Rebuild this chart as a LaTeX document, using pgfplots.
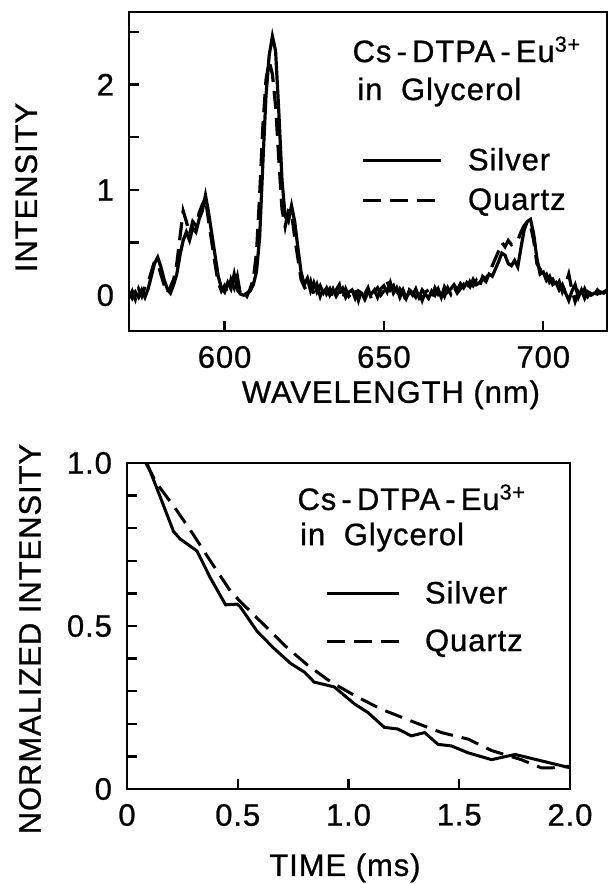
\documentclass[border=0pt]{standalone}
\usepackage{fontspec}
\setmainfont{Liberation Sans}[LetterSpace=3, FakeBold=0.8]
\usepackage{pgfplots}
\pgfplotsset{compat=1.18}

\pgfplotstableread{
x silver quartz
570 0.02 -0.02
571 -0.03 0.04
572 0.03 -0.04
573 -0.02 0.06
574 0.05 -0.01
575 -0.02 0.08
576 0.06 0.12
577 0.18 0.22
578 0.30 0.32
579 0.36 0.30
580 0.27 0.20
581 0.15 0.10
582 0.06 0.02
583 0.02 0.08
584 0.10 0.15
585 0.20 0.30
586 0.38 0.55
587 0.52 0.80
588 0.60 0.70
589 0.52 0.58
590 0.64 0.70
591 0.60 0.66
592 0.72 0.78
593 0.80 0.86
594 0.95 0.92
595 0.78 0.70
596 0.58 0.50
597 0.38 0.30
598 0.18 0.12
599 0.07 0.04
600 0.03 0.09
601 0.12 0.02
602 0.06 0.15
603 0.20 0.07
604 0.05 0.18
605 0.01 0.00
606 0.00 0.03
607 0.02 -0.01
608 0.04 0.06
609 0.10 0.15
610 0.22 0.40
611 0.55 0.95
612 1.25 1.60
613 1.90 2.05
614 2.28 2.22
615 2.46 2.10
616 2.32 1.80
617 1.75 1.30
618 1.10 0.82
619 0.75 0.65
620 0.70 0.80
621 0.85 0.78
622 0.70 0.55
623 0.45 0.35
624 0.22 0.15
625 0.10 0.08
626 0.16 0.03
627 0.04 0.13
628 0.12 0.01
629 0.03 0.10
630 0.09 -0.01
631 0.02 0.08
632 0.07 0.01
633 0.00 0.06
634 0.06 -0.03
635 -0.01 0.05
636 0.04 0.10
637 0.07 -0.04
638 -0.02 0.06
639 0.03 -0.01
640 0.05 0.02
641 -0.03 0.06
642 0.04 -0.05
643 0.02 0.05
644 -0.04 0.01
645 0.03 0.07
646 0.01 -0.03
647 0.05 0.03
648 -0.02 0.07
649 0.06 0.00
650 0.09 0.04
651 0.03 0.13
652 0.12 0.05
653 0.02 0.09
654 0.07 -0.01
655 -0.02 0.06
656 0.05 0.02
657 -0.03 -0.06
658 0.04 0.05
659 0.00 0.02
660 0.06 -0.02
661 -0.02 0.04
662 0.05 -0.05
663 0.01 0.03
664 -0.03 0.05
665 0.04 -0.02
666 0.00 0.07
667 0.06 0.01
668 -0.02 0.05
669 0.08 -0.01
670 0.03 0.07
671 0.06 0.01
672 0.10 0.08
673 0.05 0.02
674 0.11 0.06
675 0.07 0.10
676 0.12 0.04
677 0.08 0.13
678 0.15 0.09
679 0.10 0.14
680 0.12 0.08
681 0.16 0.18
682 0.13 0.15
683 0.20 0.22
684 0.18 0.28
685 0.25 0.35
686 0.32 0.42
687 0.40 0.50
688 0.38 0.46
689 0.30 0.52
690 0.28 0.48
691 0.33 0.50
692 0.27 0.52
693 0.45 0.60
694 0.62 0.66
695 0.70 0.70
696 0.72 0.66
697 0.58 0.52
698 0.35 0.30
699 0.20 0.25
700 0.22 0.17
701 0.14 0.20
702 0.18 0.12
703 0.10 0.15
704 0.12 0.08
705 0.05 0.13
706 0.10 0.03
707 0.02 0.10
708 -0.05 0.20
709 0.04 0.05
710 0.10 -0.06
711 -0.02 0.03
712 0.05 -0.02
713 -0.03 0.06
714 0.03 -0.01
715 0.00 0.04
716 0.02 0.00
717 0.01 0.05
718 0.03 0.02
719 0.02 0.03
720 0.04 0.05
}\spectrum

\pgfplotsset{
  panel/.style={
    scale only axis,
    axis line style={line width=1.4pt},
    tick align=inside,
    tick pos=left,
    major tick length=5pt,
    minor tick length=5pt,
    every tick/.append style={line width=1.2pt, black},
    tick label style={font=\fontsize{15.5}{18}\selectfont},
    label style={font=\fontsize{15.5}{18}\selectfont},
    xticklabel style={yshift=-4pt},
    yticklabel style={xshift=-4pt},
    legend style={draw=none, fill=none, inner sep=0pt, outer sep=0pt,
      nodes={inner sep=0pt}, font=\fontsize{15.5}{18}\selectfont,
      column sep=12.5pt},
    legend cell align=left,
  },
}

\begin{document}
\begin{tikzpicture}
\useasboundingbox (0,0) rectangle (305pt,442pt);

\begin{axis}[panel,
    at={(64.5pt,276.5pt)}, anchor=south west,
    width=239pt, height=159.5pt,
    xmin=570, xmax=720, ymin=-0.34, ymax=2.69,
    xtick={600,650,700}, xticklabels={600,650,700},
    ytick={0,1,2}, yticklabels={0,1,2},
    minor ytick={0.5,1.5,2.5},
    xlabel={WAVELENGTH (nm)},
    ylabel={INTENSITY},
    xlabel style={at={(axis description cs:0.548,-0.2)}, anchor=center},
    ylabel style={at={(axis description cs:-0.215,0.45)}, anchor=center},
    legend image code/.code={\draw[#1] (0pt,0pt) -- (39pt,0pt);},
    legend style={at={(rel axis cs:0.487,0.574)}, anchor=north west, row sep=7.5pt},
]
\addplot[black, line width=1.6pt] table[x=x, y=silver] {\spectrum};
\addlegendentry{Silver}
\addplot[black, line width=1.6pt, dash pattern=on 9pt off 4.5pt] table[x=x, y=quartz] {\spectrum};
\addlegendentry{Quartz}
\node[anchor=base west, font=\fontsize{15.5}{18}\selectfont, inner sep=0pt]
  at (rel axis cs:0.467,0.843) {Cs\,-\,DTPA\,-\,Eu\textsuperscript{3+}};
\node[anchor=base west, font=\fontsize{15.5}{18}\selectfont, inner sep=0pt]
  at (rel axis cs:0.477,0.724) {in\hspace{0.6em}Glycerol};
\end{axis}

\begin{axis}[panel,
    at={(63.5pt,47.5pt)}, anchor=south west,
    width=221.5pt, height=163pt,
    xmin=0, xmax=2.0, ymin=0, ymax=1.0,
    xtick={0,0.5,1,1.5,2}, xticklabels={0,0.5,1.0,1.5,2.0},
    ytick={0,0.5,1}, yticklabels={0,0.5,1.0},
    minor ytick={0.1,0.2,0.3,0.4,0.6,0.7,0.8,0.9},
    xlabel={TIME (ms)},
    ylabel={NORMALIZED INTENSITY},
    xlabel style={at={(axis description cs:0.492,-0.242)}, anchor=center},
    ylabel style={at={(axis description cs:-0.219,0.46)}, anchor=center},
    legend image code/.code={\draw[#1] (0pt,0pt) -- (36pt,0pt);},
    legend style={at={(rel axis cs:0.447,0.638)}, anchor=north west, row sep=11.5pt},
]
\addplot[black, line width=1.5pt] coordinates {
  (0.09,1.0) (0.15,0.896) (0.21,0.79) (0.24,0.767) (0.316,0.73) (0.376,0.648)
  (0.445,0.565) (0.497,0.567) (0.51,0.56) (0.588,0.483) (0.664,0.431) (0.739,0.385)
  (0.80,0.359) (0.845,0.328) (0.936,0.313) (1.027,0.261) (1.087,0.235)
  (1.162,0.189) (1.223,0.184) (1.283,0.163) (1.344,0.173) (1.404,0.137)
  (1.465,0.132) (1.54,0.111) (1.646,0.09) (1.752,0.106) (1.873,0.086) (2.0,0.065)
};
\addlegendentry{Silver}
\addplot[black, line width=1.5pt, dash pattern=on 9pt off 4.5pt] coordinates {
  (0.085,1.0) (0.135,0.937) (0.225,0.854) (0.293,0.787) (0.376,0.70)
  (0.467,0.607) (0.51,0.576) (0.603,0.514) (0.709,0.442) (0.815,0.38)
  (0.921,0.328) (1.027,0.287) (1.147,0.245) (1.30,0.204) (1.42,0.173)
  (1.54,0.153) (1.646,0.118) (1.78,0.09) (1.87,0.065) (1.92,0.065) (2.0,0.07)
};
\addlegendentry{Quartz}
\node[anchor=base west, font=\fontsize{15.5}{18}\selectfont, inner sep=0pt]
  at (rel axis cs:0.384,0.856) {Cs\,-\,DTPA\,-\,Eu\textsuperscript{3+}};
\node[anchor=base west, font=\fontsize{15.5}{18}\selectfont, inner sep=0pt]
  at (rel axis cs:0.39,0.748) {in\hspace{0.6em}Glycerol};
\end{axis}
\end{tikzpicture}
\end{document}
